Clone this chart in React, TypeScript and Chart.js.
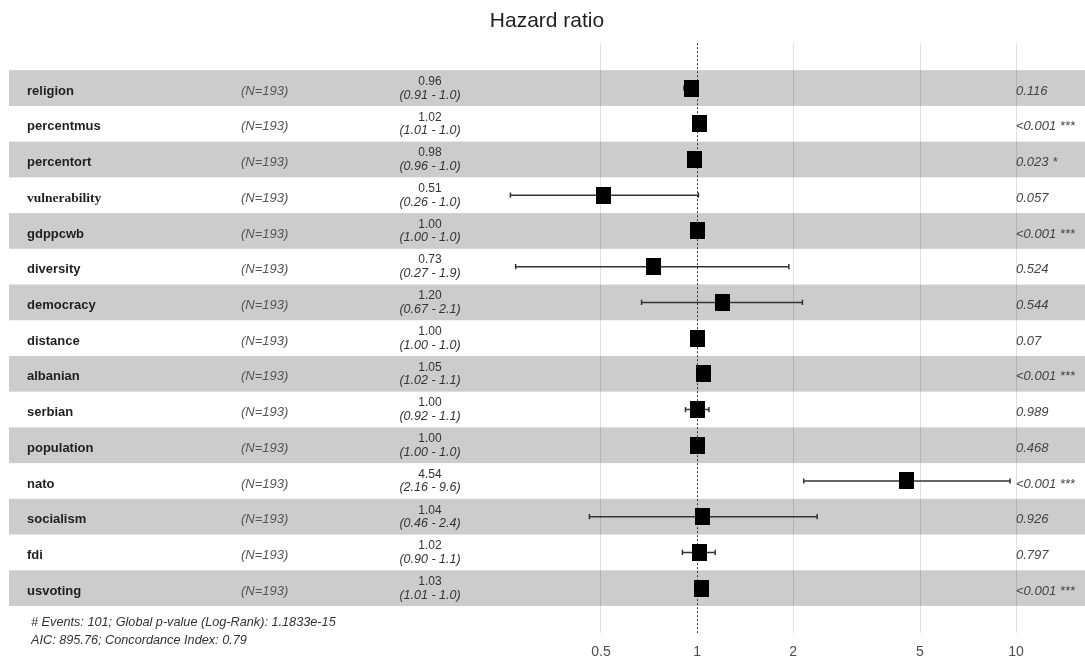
import React, { useEffect, useRef } from "react";
import { Chart, registerables } from "chart.js";

Chart.register(...registerables);

// ---- data ----
const variables = [
  "religion",
  "percentmus",
  "percentort",
  "vulnerability",
  "gdppcwb",
  "diversity",
  "democracy",
  "distance",
  "albanian",
  "serbian",
  "population",
  "nato",
  "socialism",
  "fdi",
  "usvoting",
];
const sampleSizes = [193, 193, 193, 193, 193, 193, 193, 193, 193, 193, 193, 193, 193, 193, 193];
const hazardRatios = [0.96, 1.02, 0.98, 0.51, 1.0, 0.73, 1.2, 1.0, 1.05, 1.0, 1.0, 4.54, 1.04, 1.02, 1.03];
const ciLower = [0.91, 1.01, 0.96, 0.26, 1.0, 0.27, 0.67, 1.0, 1.02, 0.92, 1.0, 2.16, 0.46, 0.9, 1.01];
const ciUpper = [1.0, 1.03, 1.0, 1.01, 1.0, 1.94, 2.14, 1.0, 1.09, 1.09, 1.0, 9.58, 2.38, 1.14, 1.04];
const pValueLabels = [
  "0.116",
  "<0.001 ***",
  "0.023 *",
  "0.057",
  "<0.001 ***",
  "0.524",
  "0.544",
  "0.07",
  "<0.001 ***",
  "0.989",
  "0.468",
  "<0.001 ***",
  "0.926",
  "0.797",
  "<0.001 ***",
];
const xTickValues = [0.5, 1, 2, 5, 10];
const chartTitle = "Hazard ratio";
const footerLines = [
  "# Events: 101; Global p-value (Log-Rank): 1.1833e-15",
  "AIC: 895.76; Concordance Index: 0.79",
];

const SANS = "'Liberation Sans', Arial, sans-serif";
const SERIF = "'Liberation Serif', 'Times New Roman', serif";

const forestPlugin = {
  id: "forestDecor",
  beforeDraw(chart: any) {
    const { ctx, chartArea, scales } = chart;
    const y = scales.y;
    ctx.save();
    ctx.fillStyle = "#cccccc";
    for (let i = 0; i < variables.length; i++) {
      if (i % 2 === 0) {
        const top = y.getPixelForValue(i - 0.5);
        const bot = y.getPixelForValue(i + 0.5);
        ctx.fillRect(chartArea.left, top, chartArea.right - chartArea.left, bot - top);
      }
    }
    ctx.restore();
  },
  beforeDatasetsDraw(chart: any) {
    const { ctx, chartArea, scales } = chart;
    const x1 = Math.round(scales.x.getPixelForValue(1)) + 0.5;
    ctx.save();
    ctx.strokeStyle = "#333333";
    ctx.lineWidth = 1;
    ctx.setLineDash([2, 2]);
    ctx.beginPath();
    ctx.moveTo(x1, chartArea.top);
    ctx.lineTo(x1, chartArea.bottom);
    ctx.stroke();
    ctx.restore();
  },
  afterDatasetsDraw(chart: any) {
    const { ctx, chartArea, scales } = chart;
    const y = scales.y;
    const L = chartArea.left;
    ctx.save();
    ctx.textBaseline = "middle";
    for (let i = 0; i < variables.length; i++) {
      const cy = y.getPixelForValue(i);
      // variable name
      ctx.textAlign = "left";
      ctx.fillStyle = "#1f1f1f";
      ctx.font = variables[i] === "vulnerability" ? `bold 13.5px ${SERIF}` : `bold 13px ${SANS}`;
      ctx.fillText(variables[i], L + 18, cy + 3);
      // N
      ctx.fillStyle = "#555555";
      ctx.font = `italic 13px ${SANS}`;
      ctx.fillText(`(N=${sampleSizes[i]})`, L + 232, cy + 3);
      // estimate
      ctx.textAlign = "center";
      ctx.fillStyle = "#333333";
      ctx.font = `12px ${SANS}`;
      ctx.fillText(hazardRatios[i].toFixed(2), L + 421, cy - 6.5);
      ctx.font = `italic 12.5px ${SANS}`;
      ctx.fillText(`(${ciLower[i].toFixed(2)} - ${ciUpper[i].toPrecision(2)})`, L + 421, cy + 7);
      // p-value
      ctx.textAlign = "left";
      ctx.fillStyle = "#444444";
      ctx.font = `italic 13px ${SANS}`;
      ctx.fillText(pValueLabels[i], L + 1007, cy + 3);
    }
    // footer
    ctx.textAlign = "left";
    ctx.fillStyle = "#333333";
    ctx.font = `italic 12.7px ${SANS}`;
    ctx.fillText(footerLines[0], L + 22, chartArea.bottom - 11);
    ctx.fillText(footerLines[1], L + 22, chartArea.bottom + 7);
    ctx.restore();
  },
};

export default function App() {
  const ref = useRef<HTMLCanvasElement>(null);

  useEffect(() => {
    const canvas = ref.current;
    if (!canvas) return;

    const marker = document.createElement("canvas");
    marker.width = 15;
    marker.height = 17;
    const mctx = marker.getContext("2d")!;
    mctx.fillStyle = "#000000";
    mctx.fillRect(0, 0, 15, 17);

    const ciDatasets = variables.map((v, i) => ({
      type: "scatter" as const,
      label: `${v} CI`,
      data: [
        { x: ciLower[i], y: i },
        { x: ciUpper[i], y: i },
      ],
      showLine: true,
      borderColor: "#333333",
      borderWidth: 1.5,
      pointStyle: "line",
      pointRotation: 90,
      pointRadius: 2.6,
      pointHoverRadius: 2.6,
      pointBorderWidth: 1.5,
      pointBorderColor: "#333333",
      pointBackgroundColor: "#333333",
      order: 1,
    }));

    const hrDataset = {
      type: "scatter" as const,
      label: "Hazard ratio",
      data: hazardRatios.map((h, i) => ({ x: h, y: i })),
      pointStyle: marker,
      pointRadius: 8,
      pointHoverRadius: 8,
      order: 0,
    };

    const chart = new Chart(canvas, {
      type: "scatter",
      data: { datasets: [hrDataset as any, ...(ciDatasets as any[])] },
      options: {
        animation: false,
        responsive: false,
        devicePixelRatio: 1,
        layout: { autoPadding: false, padding: { left: 9, right: 0, top: 0, bottom: 0 } },
        plugins: {
          legend: { display: false },
          tooltip: { enabled: false },
          title: {
            display: true,
            text: chartTitle,
            color: "#222222",
            font: { family: SANS, size: 21, weight: "normal" },
            padding: { top: 9, bottom: 9 },
          },
        },
        scales: {
          x: {
            type: "logarithmic",
            min: 0.00697,
            max: 16.45,
            bounds: "data",
            afterBuildTicks: (scale: any) => {
              scale.ticks = xTickValues.map((v) => ({ value: v }));
            },
            afterFit: (scale: any) => {
              scale.height = 26;
            },
            ticks: {
              autoSkip: false,
              maxRotation: 0,
              padding: 10.5,
              color: "#4d4d4d",
              font: { family: SANS, size: 14 },
              callback: (v: any) => String(v),
            },
            grid: {
              drawTicks: false,
              lineWidth: 1,
              color: (c: any) => (c.tick && c.tick.value === 1 ? "rgba(0,0,0,0)" : "rgba(0,0,0,0.12)"),
            },
            border: { display: false },
          },
          y: {
            type: "linear",
            min: -1.2556,
            max: 15.2556,
            reverse: true,
            display: false,
          },
        },
      },
      plugins: [forestPlugin],
    });

    return () => chart.destroy();
  }, []);

  return (
    <div style={{ position: "absolute", left: 0, top: 0, width: 1085, height: 659, background: "#ffffff" }}>
      <canvas ref={ref} width={1085} height={659} style={{ display: "block" }} />
    </div>
  );
}
